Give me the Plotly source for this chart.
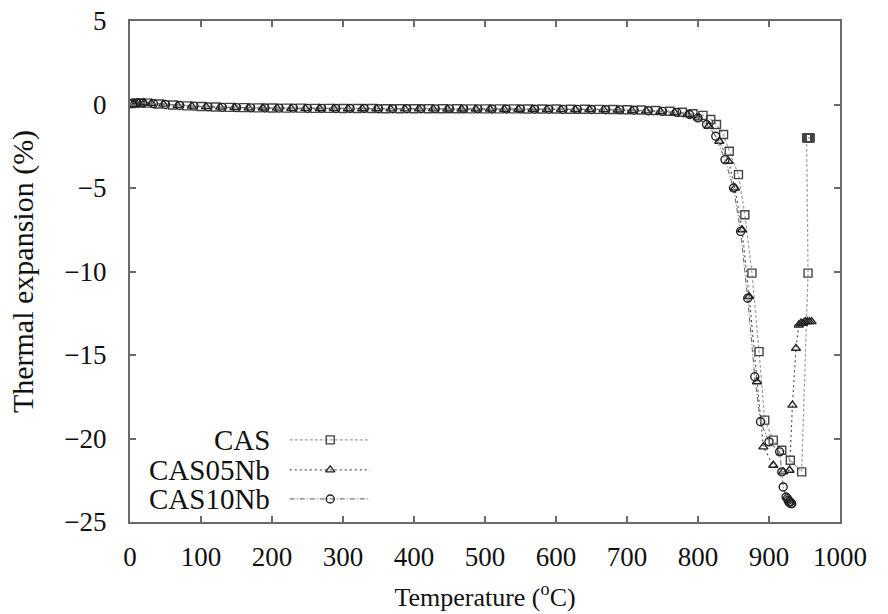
import plotly.graph_objects as go

# ---------------- data ----------------
cas_T = [2, 8, 15, 25, 40,
         60, 80, 100, 120, 140, 160, 180, 200, 220, 240, 260, 280, 300, 320, 340, 360, 380, 400,
         420, 440, 460, 480, 500, 520, 540, 560, 580, 600, 620, 640, 660, 680, 700, 720, 740, 760,
         778, 793, 807, 818, 826, 836, 844, 857, 866, 876, 886, 894, 906, 918, 930, 946,
         955, 953, 954, 955, 956, 957, 958]
cas_Y = [0.05, 0.08, 0.10, 0.08, 0.03,
         -0.03, -0.08, -0.12, -0.15, -0.17, -0.19, -0.20, -0.21, -0.22, -0.22, -0.23, -0.23, -0.24, -0.24, -0.24, -0.25, -0.25, -0.25,
         -0.25, -0.25, -0.25, -0.26, -0.26, -0.26, -0.26, -0.27, -0.27, -0.27, -0.28, -0.28, -0.29, -0.30, -0.31, -0.33, -0.36, -0.40,
         -0.46, -0.55, -0.65, -0.90, -1.2, -1.8, -2.8, -4.2, -6.6, -10.1, -14.8, -18.9, -20.1, -20.7, -21.3, -22.0,
         -10.1, -2.0, -2.0, -2.0, -2.0, -2.0, -2.0]

nb05_T = [5, 12, 20, 30, 47,
          67, 87, 107, 127, 147, 167, 187, 207, 227, 247, 267, 287, 307, 327, 347, 367, 387, 407,
          427, 447, 467, 487, 507, 527, 547, 567, 587, 607, 627, 647, 667, 687, 707, 727, 747, 767,
          785, 800, 815, 830, 843, 852, 862, 872, 883, 892, 906, 920, 929, 933, 938,
          942, 945, 948, 951, 954, 957, 960]
nb05_Y = [0.06, 0.10, 0.10, 0.07, 0.02,
          -0.05, -0.10, -0.13, -0.16, -0.18, -0.20, -0.21, -0.22, -0.23, -0.23, -0.24, -0.24, -0.25, -0.25, -0.25, -0.26, -0.26, -0.26,
          -0.26, -0.27, -0.27, -0.27, -0.27, -0.28, -0.28, -0.28, -0.29, -0.29, -0.30, -0.30, -0.31, -0.33, -0.35, -0.38, -0.42, -0.48,
          -0.6, -0.8, -1.3, -2.2, -3.4, -5.0, -7.5, -11.5, -16.6, -20.5, -21.6, -22.0, -21.9, -18.0, -14.6,
          -13.2, -13.1, -13.1, -13.0, -13.0, -13.0, -13.0]

nb10_T = [0, 4, 10, 18, 33, 50,
          70, 90, 110, 130, 150, 170, 190, 210, 230, 250, 270, 290, 310, 330, 350, 370, 390, 410,
          430, 450, 470, 490, 510, 530, 550, 570, 590, 610, 630, 650, 670, 690, 710, 730, 750, 770,
          788, 800, 812, 825, 838, 850, 860, 870, 880, 888, 900, 915, 918, 920, 924,
          926, 927, 928, 929, 930, 931, 932]
nb10_Y = [0.05, 0.08, 0.10, 0.09, 0.05, 0.0,
          -0.06, -0.10, -0.14, -0.17, -0.19, -0.20, -0.21, -0.22, -0.22, -0.23, -0.23, -0.24, -0.24, -0.24, -0.25, -0.25, -0.25, -0.25,
          -0.26, -0.26, -0.26, -0.26, -0.27, -0.27, -0.27, -0.28, -0.28, -0.29, -0.29, -0.30, -0.31, -0.32, -0.34, -0.37, -0.41, -0.47,
          -0.6, -0.8, -1.2, -1.9, -3.3, -5.0, -7.6, -11.6, -16.3, -19.0, -20.2, -20.8, -22.0, -22.9, -23.5,
          -23.6, -23.7, -23.8, -23.8, -23.8, -23.9, -23.9]

assert len(cas_T) == len(cas_Y)
assert len(nb05_T) == len(nb05_Y)
assert len(nb10_T) == len(nb10_Y)

series_names = ["CAS", "CAS05Nb", "CAS10Nb"]
x_ticks = [0, 100, 200, 300, 400, 500, 600, 700, 800, 900, 1000]
y_ticks = [5, 0, -5, -10, -15, -20, -25]

# ---------------- styles ----------------
FONT = "Liberation Serif"
INK = "#111111"
styles = [
    dict(line=dict(color="#a0a0a0", width=1.2, dash="3px,2px"),
         marker=dict(symbol="square-open", size=8, color="#444444", line=dict(width=1.4))),
    dict(line=dict(color="#555555", width=1.2, dash="2px,3px"),
         marker=dict(symbol="triangle-up-open", size=8, color="#222222", line=dict(width=1.4))),
    dict(line=dict(color="#777777", width=1.2, dash="5px,2px,1px,2px"),
         marker=dict(symbol="circle-open", size=8, color="#222222", line=dict(width=1.4))),
]

fig = go.Figure()
for (tx, ty), name, st in zip([(cas_T, cas_Y), (nb05_T, nb05_Y), (nb10_T, nb10_Y)], series_names, styles):
    fig.add_trace(go.Scatter(x=tx, y=ty, mode="lines+markers", name=name,
                             line=st["line"], marker=st["marker"], showlegend=False))

# gnuplot-style key (text on the left, sample on the right), drawn on an overlay axis
key_rows = [0.164, 0.104, 0.046]
for name, st, ry in zip(series_names, styles, key_rows):
    fig.add_trace(go.Scatter(x=[0.225, 0.338], y=[ry, ry], xaxis="x2", yaxis="y2",
                             mode="lines", line=st["line"], showlegend=False, hoverinfo="skip"))
    fig.add_trace(go.Scatter(x=[0.282], y=[ry], xaxis="x2", yaxis="y2",
                             mode="markers", marker=st["marker"], showlegend=False, hoverinfo="skip"))
    fig.add_annotation(x=0.2, y=ry, xref="x2", yref="y2", text=name, showarrow=False,
                       xanchor="right", yanchor="middle", font=dict(family=FONT, size=29, color=INK))

axis_common = dict(showgrid=False, zeroline=False, showline=True, linecolor="#6a6a6a", linewidth=2,
                   ticks="inside", ticklen=6, tickwidth=2, tickcolor="#6a6a6a", mirror="ticks",
                   tickfont=dict(family=FONT, size=27, color=INK))

fig.update_layout(
    width=888, height=614,
    margin=dict(l=130, r=48, t=21, b=92, autoexpand=False),
    paper_bgcolor="white", plot_bgcolor="white",
    font=dict(family=FONT, size=27, color=INK),
    xaxis=dict(axis_common, range=[0, 1000], tickvals=x_ticks, ticklabelstandoff=10,
               title=dict(text="Temperature (<sup>o</sup>C)", standoff=16,
                          font=dict(family=FONT, size=26, color=INK))),
    yaxis=dict(axis_common, range=[-25, 5], tickvals=y_ticks, ticklabelstandoff=16,
               title=dict(text="Thermal expansion (%)", standoff=22,
                          font=dict(family=FONT, size=30, color=INK))),
    xaxis2=dict(overlaying="x", range=[0, 1], visible=False, fixedrange=True),
    yaxis2=dict(overlaying="y", range=[0, 1], visible=False, fixedrange=True),
    showlegend=False,
)

fig.write_html("out.html")
